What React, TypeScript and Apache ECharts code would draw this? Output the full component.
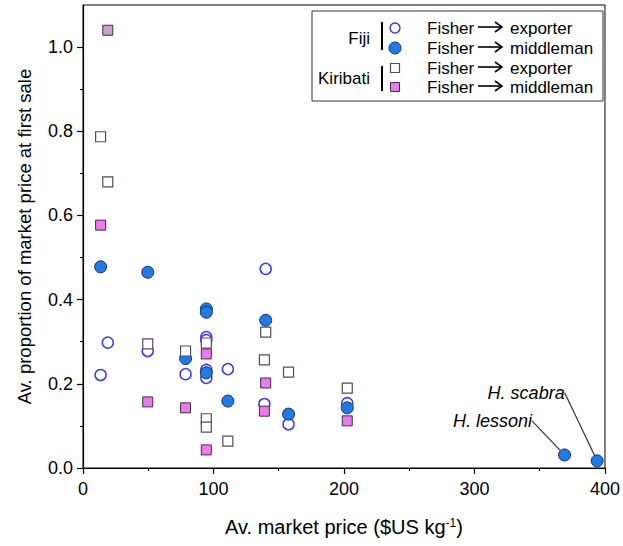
import React, { useEffect, useRef } from "react";
import * as echarts from "echarts";

const xTicks = [0, 100, 200, 300, 400];
const yTicks = [0, 0.2, 0.4, 0.6, 0.8, 1.0];
const yMinorTicks = [0.1, 0.3, 0.5, 0.7, 0.9];

const fijiExporter = [
  [13.5, 0.221], [19, 0.298], [49.6, 0.278], [78.6, 0.223], [94.5, 0.311], [94.5, 0.304],
  [94.5, 0.233], [94.5, 0.214], [111, 0.235], [140, 0.473], [139, 0.152], [157.5, 0.104],
  [202.5, 0.154],
];
const fijiMiddleman = [
  [13.5, 0.478], [49.6, 0.465], [78.6, 0.26], [94.5, 0.378], [94.5, 0.37], [94.5, 0.226],
  [111, 0.159], [140, 0.351], [157.5, 0.128], [202.5, 0.143],
];
const namedSpecies = [
  { name: "H. lessoni", value: [369, 0.031] },
  { name: "H. scabra", value: [394, 0.017] },
];
const kiribatiExporter = [
  [13.5, 0.787], [19, 0.68], [49.6, 0.295], [78.6, 0.278], [94.5, 0.297], [94.5, 0.117],
  [94.5, 0.097], [111, 0.064], [140, 0.323], [139, 0.257], [157.5, 0.228], [202.5, 0.19],
];
const kiribatiMiddleman = [
  [19, 1.04], [13.5, 0.577], [49.6, 0.157], [78.6, 0.143], [94.5, 0.271], [94.5, 0.043],
  [140, 0.202], [139, 0.135], [202.5, 0.112],
];

const legendGroups = ["Fiji", "Kiribati"];
const legendDest = ["exporter", "middleman", "exporter", "middleman"];

const FONT = "'Liberation Sans', Arial, sans-serif";
const C = {
  openCircle: "#3c3cf2",
  blue: "#1f7ae8",
  blueEdge: "#1b3358",
  sqEdge: "#5a4a5c",
  pink: "#ee78ee",
  pinkTop: "#c9a0c9",
  pinkEdge: "#3e323f",
};

const labelOffsets: Record<string, [number, number]> = {
  "H. lessoni": [-21, -34],
  "H. scabra": [-21, -68],
};

export default function App() {
  const ref = useRef<HTMLDivElement>(null);
  useEffect(() => {
    if (!ref.current) return;
    const chart = echarts.init(ref.current, undefined, { renderer: "svg" });

    const rowY = [28, 48, 68, 87];
    const legendSymbols: any[] = [
      { type: "circle", shape: { cx: 395, cy: rowY[0], r: 5 }, style: { fill: "#fff", stroke: C.openCircle, lineWidth: 1.5 } },
      { type: "circle", shape: { cx: 395, cy: rowY[1], r: 6 }, style: { fill: C.blue, stroke: C.blueEdge, lineWidth: 1 } },
      { type: "rect", shape: { x: 390.5, y: rowY[2] - 4.5, width: 9, height: 9 }, style: { fill: "#fff", stroke: C.sqEdge, lineWidth: 1.2 } },
      { type: "rect", shape: { x: 390.5, y: rowY[3] - 4.5, width: 9, height: 9 }, style: { fill: C.pink, stroke: C.pinkEdge, lineWidth: 1 } },
    ];
    const legendTexts: any[] = [];
    legendDest.forEach((d, i) => {
      const y = rowY[i];
      legendTexts.push({ type: "text", x: 427, y, style: { text: "Fisher", font: `17px ${FONT}`, fill: "#000", verticalAlign: "middle" } });
      legendTexts.push({ type: "line", shape: { x1: 478, y1: y - 1, x2: 502, y2: y - 1 }, style: { stroke: "#000", lineWidth: 1.6 } });
      legendTexts.push({ type: "polyline", shape: { points: [[495, y - 6], [502, y - 1], [495, y + 4]] }, style: { stroke: "#000", lineWidth: 1.6, fill: "none" } });
      legendTexts.push({ type: "text", x: 510, y, style: { text: d, font: `17px ${FONT}`, fill: "#000", verticalAlign: "middle" } });
    });
    const groupGraphics: any[] = [
      { type: "text", x: 370, y: 38, style: { text: legendGroups[0], font: `17px ${FONT}`, fill: "#000", align: "right", verticalAlign: "middle" } },
      { type: "text", x: 370, y: 78, style: { text: legendGroups[1], font: `17px ${FONT}`, fill: "#000", align: "right", verticalAlign: "middle" } },
      { type: "line", shape: { x1: 382, y1: 22, x2: 382, y2: 50 }, style: { stroke: "#000", lineWidth: 2 } },
      { type: "line", shape: { x1: 382, y1: 66, x2: 382, y2: 91 }, style: { stroke: "#000", lineWidth: 2 } },
    ];

    const labelStyle = { show: true, formatter: "{b}", position: "left", distance: 5, fontSize: 18, fontStyle: "italic", color: "#000", fontFamily: FONT };

    chart.setOption({
      animation: false,
      grid: { left: 83, right: 16, top: 5, bottom: 78, show: true, borderColor: "#000", borderWidth: 1 },
      xAxis: {
        type: "value", min: 0, max: 400, interval: 100,
        axisLine: { show: true, lineStyle: { color: "#000", width: 1.2 } },
        axisTick: { show: true, length: 6, lineStyle: { color: "#000", width: 1.2 } },
        minorTick: { show: true, splitNumber: 2, length: 3, lineStyle: { color: "#000" } },
        axisLabel: { customValues: xTicks, fontSize: 18, color: "#000", fontFamily: FONT, margin: 12 },
        splitLine: { show: false },
        name: "Av. market price ($US kg{sup|-1}{n|)}",
        nameLocation: "middle", nameGap: 49,
        nameTextStyle: {
          fontSize: 20, color: "#000", fontFamily: FONT,
          rich: {
            sup: { fontSize: 12, color: "#000", fontFamily: FONT, verticalAlign: "top" },
            n: { fontSize: 20, color: "#000", fontFamily: FONT },
          },
        },
      },
      yAxis: [
        {
          type: "value", min: 0, max: 1.1,
          axisLine: { show: true, lineStyle: { color: "#000", width: 1.2 } },
          axisTick: { show: true, length: 6, customValues: yTicks, lineStyle: { color: "#000", width: 1.2 } },
          axisLabel: { customValues: yTicks, formatter: (v: number) => v.toFixed(1), fontSize: 18, color: "#000", fontFamily: FONT, margin: 10 },
          splitLine: { show: false },
          name: "Av. proportion of market price at first sale",
          nameLocation: "middle", nameGap: 49,
          nameTextStyle: { fontSize: 18.5, color: "#000", fontFamily: FONT, padding: [0, 0, 0, 0] },
        },
        {
          type: "value", min: 0, max: 1.1, position: "left",
          axisLine: { show: false },
          axisTick: { show: true, length: 3, customValues: yMinorTicks, lineStyle: { color: "#000" } },
          axisLabel: { show: false },
          splitLine: { show: false },
        },
      ],
      series: [
        {
          type: "scatter", name: "Fiji exporter", data: fijiExporter, symbol: "circle", symbolSize: 11,
          itemStyle: { color: "#fff", borderColor: C.openCircle, borderWidth: 1.5, opacity: 1 },
        },
        {
          type: "scatter", name: "Fiji middleman",
          data: [...fijiMiddleman, ...namedSpecies.map((d) => ({ ...d, label: labelStyle }))],
          symbol: "circle", symbolSize: 12,
          itemStyle: { color: C.blue, borderColor: C.blueEdge, borderWidth: 1, opacity: 1 },
          label: { show: false },
          labelLine: { show: true, lineStyle: { color: "#333", width: 1.2 } },
          labelLayout: (p: any) => {
            const o = labelOffsets[p.text];
            return o ? { dx: o[0], dy: o[1] } : {};
          },
          emphasis: { disabled: true },
        },
        {
          type: "scatter", name: "Kiribati exporter", data: kiribatiExporter, symbol: "rect", symbolSize: 10,
          itemStyle: { color: "#fff", borderColor: C.sqEdge, borderWidth: 1.2, opacity: 1 },
        },
        {
          type: "scatter", name: "Kiribati middleman", data: kiribatiMiddleman, symbol: "rect", symbolSize: 10,
          itemStyle: {
            color: (p: any) => (p.value[1] > 1 ? C.pinkTop : C.pink),
            borderColor: C.pinkEdge, borderWidth: 1, opacity: 1,
          },
        },
      ],
      graphic: [
        { type: "rect", z: 100, shape: { x: 312, y: 11, width: 291, height: 90 }, style: { fill: "#fff", stroke: "#333", lineWidth: 1 } },
        ...groupGraphics.map((g) => ({ ...g, z: 101 })),
        ...legendSymbols.map((g) => ({ ...g, z: 101 })),
        ...legendTexts.map((g) => ({ ...g, z: 101 })),
      ],
    });
    return () => chart.dispose();
  }, []);
  return <div ref={ref} style={{ width: 623, height: 546, position: "absolute", left: 0, top: 0 }} />;
}
